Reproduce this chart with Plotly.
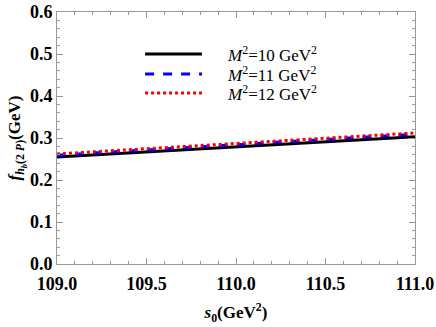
import plotly.graph_objects as go

s0 = [109.0, 109.5, 110.0, 110.5, 111.0]
f_M10 = [0.255, 0.267, 0.279, 0.291, 0.303]
f_M11 = [0.259, 0.2715, 0.284, 0.2965, 0.309]
f_M12 = [0.262, 0.2745, 0.287, 0.2995, 0.312]
names = ["<i>M</i><sup>2</sup>=10 GeV<sup>2</sup>",
         "<i>M</i><sup>2</sup>=11 GeV<sup>2</sup>",
         "<i>M</i><sup>2</sup>=12 GeV<sup>2</sup>"]
colors = ["black", "blue", "red"]
dashes = ["solid", "dash", "dot"]
x_ticks = [109.0, 109.5, 110.0, 110.5, 111.0]
x_ticktext = ["109.0", "109.5", "110.0", "110.5", "111.0"]
y_ticks = [0, 0.1, 0.2, 0.3, 0.4, 0.5, 0.6]
y_ticktext = ["0.0", "0.1", "0.2", "0.3", "0.4", "0.5", "0.6"]

SERIF = "Liberation Serif"

fig = go.Figure()
for ys, nm, c, d in zip([f_M10, f_M11, f_M12], names, colors, dashes):
    fig.add_trace(go.Scatter(x=s0, y=ys, mode="lines", name=nm, showlegend=False,
                             line=dict(color=c, width=3, dash=d)))

# manual legend (paper coordinates)
leg_rows = [0.833, 0.754, 0.679]
for yy, nm, c, d in zip(leg_rows, names, colors, dashes):
    fig.add_shape(type="line", xref="paper", yref="paper", x0=0.246, x1=0.405,
                  y0=yy, y1=yy, line=dict(color=c, width=3, dash=d))
    fig.add_annotation(xref="paper", yref="paper", x=0.469, y=yy, text=nm,
                       showarrow=False, xanchor="left", yanchor="middle",
                       font=dict(family=SERIF, size=17, color="black"))

def axis_common():
    return dict(showline=True, linecolor="#999999", linewidth=1, mirror="allticks",
                ticks="inside", ticklen=6, tickcolor="#999999", showgrid=False,
                zeroline=False, automargin=False,
                tickfont=dict(family=SERIF, size=18, color="black"))

fig.update_xaxes(range=[109.0, 111.0], tickvals=x_ticks,
                 ticktext=["<b>%s</b>" % t for t in x_ticktext],
                 ticklabelstandoff=3,
                 minor=dict(dtick=0.1, ticks="inside", ticklen=3, tickcolor="#999999"),
                 title=dict(text="<b><i>s</i><sub>0</sub>(GeV<sup>2</sup>)</b>",
                            font=dict(family=SERIF, size=17, color="black"),
                            standoff=13),
                 **axis_common())
fig.update_yaxes(range=[0, 0.6], tickvals=y_ticks,
                 ticktext=["<b>%s</b>" % t for t in y_ticktext],
                 minor=dict(dtick=0.02, ticks="inside", ticklen=3, tickcolor="#999999"),
                 title=dict(text="<b><i>f</i><sub><i>h</i><sub><i>b</i></sub>(2 <i>P</i>)</sub>(GeV)</b>",
                            font=dict(family=SERIF, size=17, color="black"),
                            standoff=4),
                 **axis_common())

fig.update_layout(
    width=436, height=327,
    font=dict(family=SERIF, color="black"),
    margin=dict(l=57, r=21, t=12, b=63),
    plot_bgcolor="white", paper_bgcolor="white",
    showlegend=False,
)

fig.write_html("out.html", config={"displayModeBar": False},
               post_script="document.body.style.margin='0';")
